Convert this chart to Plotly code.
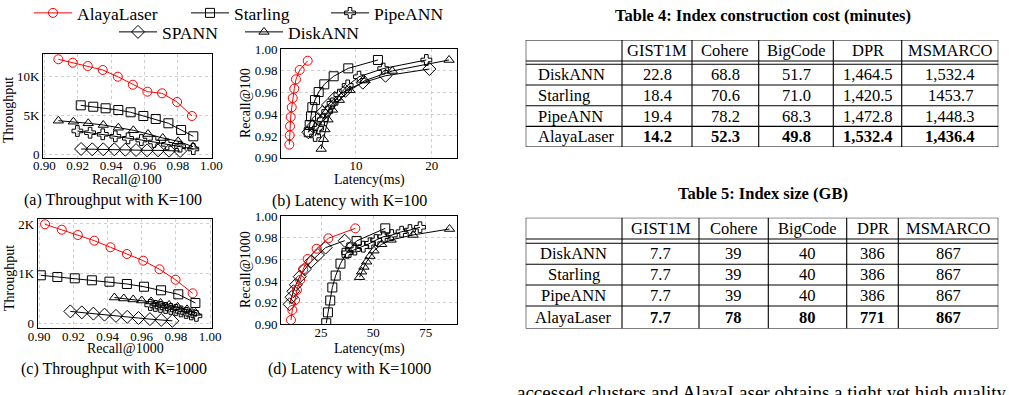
import plotly.graph_objects as go

W, H = 1009, 395
FONT = "Liberation Serif"

# ---------------- data ----------------
methods = ["AlayaLaser", "Starling", "PipeANN", "SPANN", "DiskANN"]

# (a) throughput vs Recall@100
alaya_a_recall = [0.9084, 0.9170, 0.9260, 0.9350, 0.9440, 0.9530, 0.9617, 0.9705, 0.9795, 0.9884]
alaya_a_qps = [12140, 11700, 11280, 10770, 9910, 8880, 7990, 7780, 6670, 4870]
starling_a_recall = [0.9218, 0.9293, 0.9367, 0.9443, 0.9517, 0.9593, 0.9667, 0.9743, 0.9819, 0.9892]
starling_a_qps = [6240, 6060, 5860, 5640, 5350, 4870, 4490, 3940, 3080, 2270]
pipe_a_recall = [0.9198, 0.9274, 0.9350, 0.9425, 0.9501, 0.9581, 0.9657, 0.9735, 0.9813, 0.9892]
pipe_a_qps = [2950, 2730, 2530, 2270, 2010, 1790, 1540, 1240, 940, 640]
spann_a_recall = [0.9220, 0.9287, 0.9353, 0.9419, 0.9485, 0.9549, 0.9615, 0.9681, 0.9747, 0.9813]
spann_a_qps = [640, 600, 600, 600, 550, 510, 470, 470, 420, 380]
disk_a_recall = [0.9084, 0.9174, 0.9263, 0.9353, 0.9443, 0.9533, 0.9621, 0.9709, 0.9801, 0.9890]
disk_a_qps = [4270, 4140, 3940, 3720, 3370, 3040, 2560, 2050, 1630, 940]

# (b) Recall@100 vs latency (ms)
alaya_b_lat = [1.19, 1.24, 1.28, 1.37, 1.51, 1.64, 1.85, 2.07, 2.56, 3.62]
alaya_b_recall = [0.9120, 0.9206, 0.9289, 0.9374, 0.9464, 0.9549, 0.9635, 0.9721, 0.9807, 0.9892]
starling_b_lat = [3.75, 3.88, 4.06, 4.23, 4.58, 5.07, 5.81, 7.05, 8.98, 12.9]
starling_b_recall = [0.9234, 0.9301, 0.9380, 0.9464, 0.9530, 0.9604, 0.9675, 0.9749, 0.9822, 0.9899]
pipe_b_lat = [4.6, 5.0, 5.6, 6.2, 6.9, 7.8, 8.9, 10.4, 13.6, 19.3]
pipe_b_recall = [0.9200, 0.9270, 0.9350, 0.9425, 0.9500, 0.9580, 0.9665, 0.9745, 0.9820, 0.9899]
spann_b_lat = [3.7, 4.3, 5.0, 5.6, 6.3, 7.2, 8.6, 10.9, 13.9, 19.7]
spann_b_recall = [0.9234, 0.9290, 0.9355, 0.9420, 0.9485, 0.9550, 0.9615, 0.9690, 0.9754, 0.9816]
disk_b_lat = [5.4, 5.7, 5.9, 6.3, 6.9, 7.8, 9.2, 11.2, 14.8, 22.3]
disk_b_recall = [0.9080, 0.9170, 0.9260, 0.9350, 0.9440, 0.9530, 0.9620, 0.9710, 0.9798, 0.9899]

# (c) throughput vs Recall@1000
alaya_c_recall = [0.9034, 0.9132, 0.9226, 0.9322, 0.9417, 0.9513, 0.9609, 0.9704, 0.9798, 0.9898]
alaya_c_qps = [1994, 1885, 1778, 1664, 1531, 1396, 1261, 1088, 878, 604]
starling_c_recall = [0.9009, 0.9106, 0.9208, 0.9308, 0.9411, 0.9513, 0.9613, 0.9713, 0.9814, 0.9914]
starling_c_qps = [967, 933, 906, 866, 838, 792, 737, 665, 584, 409]
pipe_c_recall = [0.965, 0.968, 0.971, 0.974, 0.977, 0.980, 0.983, 0.986, 0.989, 0.992]
pipe_c_qps = [370, 350, 330, 310, 290, 270, 240, 210, 180, 150]
spann_c_recall = [0.9182, 0.9249, 0.9317, 0.9382, 0.9449, 0.9515, 0.9581, 0.9648, 0.9714, 0.9779]
spann_c_qps = [240, 220, 195, 175, 150, 130, 107, 85, 68, 50]
disk_c_recall = [0.944, 0.9495, 0.955, 0.960, 0.9655, 0.971, 0.976, 0.981, 0.9865, 0.9915]
disk_c_qps = [520, 500, 480, 460, 440, 410, 370, 330, 280, 210]

# (d) Recall@1000 vs latency (ms)
alaya_d_lat = [10.65, 11.3, 12.6, 13.5, 15.0, 16.5, 18.6, 22.9, 28.5, 41.4]
alaya_d_recall = [0.9040, 0.9132, 0.9224, 0.9317, 0.9409, 0.9508, 0.9603, 0.9698, 0.9794, 0.9886]
starling_d_lat = [27.5, 28.3, 29.4, 30.4, 32.0, 34.3, 37.2, 39.5, 42.0, 55.7]
starling_d_recall = [0.9010, 0.9110, 0.9220, 0.9340, 0.9450, 0.9560, 0.9660, 0.9710, 0.9770, 0.9886]
pipe_d_lat = [37.5, 41.2, 45.2, 48.4, 51.3, 54.8, 58.8, 63.5, 67.5, 72.3]
pipe_d_recall = [0.9660, 0.9690, 0.9717, 0.9748, 0.9778, 0.9809, 0.9824, 0.9855, 0.9870, 0.9896]
spann_d_lat = [10.0, 10.9, 11.8, 13.0, 14.8, 17.3, 20.3, 23.5, 27.2, 36.3]
spann_d_recall = [0.9185, 0.9250, 0.9305, 0.9365, 0.9440, 0.9510, 0.9580, 0.9640, 0.9708, 0.9772]
disk_d_lat = [43.4, 44.4, 45.5, 46.8, 48.4, 50.3, 54.0, 58.5, 69.0, 86.4]
disk_d_recall = [0.9435, 0.9486, 0.9530, 0.9578, 0.9630, 0.9680, 0.9739, 0.9780, 0.9825, 0.9880]

recall_ticks = [0.90, 0.92, 0.94, 0.96, 0.98, 1.00]
qps100_ticks = [0, 5000, 10000]
qps100_labels = ["0", "5K", "10K"]
qps1000_ticks = [0, 1000, 2000]
qps1000_labels = ["0", "1K", "2K"]
lat100_ticks = [10, 20]
lat1000_ticks = [25, 50, 75]

# tables
table_columns = ["", "GIST1M", "Cohere", "BigCode", "DPR", "MSMARCO"]
table_methods = ["DiskANN", "Starling", "PipeANN", "AlayaLaser"]
build_cost = [
    ["22.8", "68.8", "51.7", "1,464.5", "1,532.4"],
    ["18.4", "70.6", "71.0", "1,420.5", "1453.7"],
    ["19.4", "78.2", "68.3", "1,472.8", "1,448.3"],
    ["14.2", "52.3", "49.8", "1,532.4", "1,436.4"],
]
index_size = [
    ["7.7", "39", "40", "386", "867"],
    ["7.7", "39", "40", "386", "867"],
    ["7.7", "39", "40", "386", "867"],
    ["7.7", "78", "80", "771", "867"],
]

# ---------------- helpers ----------------
def fx(p):
    return p / W

def fy(p):
    return 1 - p / H

styles = {
    "AlayaLaser": dict(color="#ff0000", symbol="circle-open", size=9),
    "Starling": dict(color="black", symbol="square-open", size=9),
    "PipeANN": dict(color="black", symbol="cross-open", size=9),
    "SPANN": dict(color="black", symbol="diamond-open", size=10),
    "DiskANN": dict(color="black", symbol="triangle-up-open", size=9),
}
legend_of = {"AlayaLaser": "legend", "Starling": "legend", "PipeANN": "legend",
             "SPANN": "legend2", "DiskANN": "legend2"}
rank_of = {"AlayaLaser": 1, "Starling": 2, "PipeANN": 3, "SPANN": 4, "DiskANN": 5}
lw_of = {"AlayaLaser": 104, "Starling": 87, "PipeANN": 110, "SPANN": 73, "DiskANN": 110}

panels = [
    ("x", "y", {
        "Starling": (starling_a_recall, starling_a_qps),
        "PipeANN": (pipe_a_recall, pipe_a_qps),
        "SPANN": (spann_a_recall, spann_a_qps),
        "DiskANN": (disk_a_recall, disk_a_qps),
        "AlayaLaser": (alaya_a_recall, alaya_a_qps),
    }),
    ("x2", "y2", {
        "Starling": (starling_b_lat, starling_b_recall),
        "PipeANN": (pipe_b_lat, pipe_b_recall),
        "SPANN": (spann_b_lat, spann_b_recall),
        "DiskANN": (disk_b_lat, disk_b_recall),
        "AlayaLaser": (alaya_b_lat, alaya_b_recall),
    }),
    ("x3", "y3", {
        "Starling": (starling_c_recall, starling_c_qps),
        "PipeANN": (pipe_c_recall, pipe_c_qps),
        "SPANN": (spann_c_recall, spann_c_qps),
        "DiskANN": (disk_c_recall, disk_c_qps),
        "AlayaLaser": (alaya_c_recall, alaya_c_qps),
    }),
    ("x4", "y4", {
        "Starling": (starling_d_lat, starling_d_recall),
        "PipeANN": (pipe_d_lat, pipe_d_recall),
        "SPANN": (spann_d_lat, spann_d_recall),
        "DiskANN": (disk_d_lat, disk_d_recall),
        "AlayaLaser": (alaya_d_lat, alaya_d_recall),
    }),
]

fig = go.Figure()
for i, (xa, ya, series) in enumerate(panels):
    for name, (xs, ys) in series.items():
        st = styles[name]
        fig.add_trace(go.Scatter(
            x=xs, y=ys, mode="lines+markers", name=name,
            xaxis=xa, yaxis=ya,
            line=dict(color=st["color"], width=1),
            marker=dict(symbol=st["symbol"], size=st["size"], color=st["color"],
                        line=dict(width=1, color=st["color"])),
            showlegend=(i == 0), legend=legend_of[name], legendrank=rank_of[name],
            legendwidth=lw_of[name], legendgroup=name,
        ))

axis_common = dict(showline=True, mirror=True, linecolor="black", linewidth=1,
                   showgrid=True, gridcolor="#cfcfcf", griddash="dot", gridwidth=1,
                   zeroline=False, ticks="",
                   tickfont=dict(family=FONT, size=13, color="black"))
xcommon = dict(axis_common, ticklabelstandoff=-4)
ycommon = dict(axis_common, ticklabelstandoff=0)

legend_font = dict(family=FONT, size=17.5, color="black")
fig.update_layout(
    width=W, height=H, margin=dict(l=0, r=0, t=0, b=0, autoexpand=False),
    paper_bgcolor="white", plot_bgcolor="white",
    font=dict(family=FONT, color="black"),
    xaxis=dict(domain=[fx(43), fx(212)], range=[0.8992, 1.0004], tickvals=recall_ticks,
               tickformat=".2f", anchor="y", **xcommon),
    yaxis=dict(domain=[fy(157.7), fy(54)], range=[-474, 12820], tickvals=qps100_ticks,
               ticktext=qps100_labels, anchor="x", **ycommon),
    xaxis2=dict(domain=[fx(281), fx(457)], range=[0.09, 23.35], tickvals=lat100_ticks,
                anchor="y2", **xcommon),
    yaxis2=dict(domain=[fy(157.7), fy(49)], range=[0.90, 1.00], tickvals=recall_ticks,
                tickformat=".2f", anchor="x2", **ycommon),
    xaxis3=dict(domain=[fx(37.7), fx(212.3)], range=[0.8991, 1.0013], tickvals=recall_ticks,
                tickformat=".2f", anchor="y3", **xcommon),
    yaxis3=dict(domain=[fy(328.3), fy(219)], range=[-100, 2100], tickvals=qps1000_ticks,
                ticktext=qps1000_labels, anchor="x3", **ycommon),
    xaxis4=dict(domain=[fx(281), fx(457)], range=[5.88, 89.97], tickvals=lat1000_ticks,
                anchor="y4", **xcommon),
    yaxis4=dict(domain=[fy(324.3), fy(216)], range=[0.90, 1.00], tickvals=recall_ticks,
                tickformat=".2f", anchor="x4", **ycommon),
    legend=dict(orientation="h", x=fx(29), y=fy(13), xanchor="left", yanchor="middle",
                font=legend_font, bgcolor="rgba(0,0,0,0)", itemwidth=38),
    legend2=dict(orientation="h", x=fx(114), y=fy(32), xanchor="left", yanchor="middle",
                 font=legend_font, bgcolor="rgba(0,0,0,0)", itemwidth=38),
)

# ---------------- tables on their own hidden axes ----------------
def add_table(idx, values, top, colw, row_h, header_h, gap, first_left):
    xa, ya = "x%d" % idx, "y%d" % idx
    total_w = sum(colw)
    heights = [header_h, gap] + row_h
    total_h = sum(heights)
    fig.update_layout(**{
        "xaxis%d" % idx: dict(domain=[fx(525.7), fx(525.7 + total_w)], range=[0, total_w],
                              visible=False, anchor=ya, fixedrange=True),
        "yaxis%d" % idx: dict(domain=[fy(top + total_h), fy(top)], range=[total_h, 0],
                              visible=False, anchor=xa, fixedrange=True),
    })
    xb = [0]
    for w in colw:
        xb.append(xb[-1] + w)
    yb = [0]
    for h in heights:
        yb.append(yb[-1] + h)
    line = dict(color="black", width=1.1)
    for yv in yb:
        fig.add_shape(type="line", xref=xa, yref=ya, x0=0, x1=total_w, y0=yv, y1=yv, line=line)
    for xv in xb:
        fig.add_shape(type="line", xref=xa, yref=ya, x0=xv, x1=xv, y0=0, y1=total_h, line=line)
    fsize = 16.5
    for j, name in enumerate(table_columns):
        if name:
            fig.add_annotation(text=name, x=(xb[j] + xb[j + 1]) / 2, y=header_h / 2,
                               xref=xa, yref=ya, showarrow=False,
                               font=dict(family=FONT, size=fsize, color="black"))
    for r, meth in enumerate(table_methods):
        yc = (yb[r + 2] + yb[r + 3]) / 2
        if first_left:
            fig.add_annotation(text=meth, x=10, y=yc, xref=xa, yref=ya, xanchor="left",
                               showarrow=False, font=dict(family=FONT, size=fsize, color="black"))
        else:
            fig.add_annotation(text=meth, x=(xb[0] + xb[1]) / 2, y=yc, xref=xa, yref=ya,
                               showarrow=False, font=dict(family=FONT, size=fsize, color="black"))
        for j, v in enumerate(values[r]):
            txt = "<b>%s</b>" % v if meth == "AlayaLaser" else v
            fig.add_annotation(text=txt, x=(xb[j + 1] + xb[j + 2]) / 2, y=yc, xref=xa, yref=ya,
                               showarrow=False, font=dict(family=FONT, size=fsize, color="black"))

add_table(5, build_cost, 40, [96.3, 70, 66.7, 74.6, 68.4, 96.6],
          [20.7, 20.7, 20.7, 20.7], 21, 3.3, True)
add_table(6, index_size, 217.7, [96.3, 77, 69.3, 78.4, 51.6, 100],
          [21, 20.7, 21, 22.6], 21.3, 4.3, False)

def ann(text, x, y, size=14, angle=0, xanchor="center", yanchor="middle"):
    fig.add_annotation(text=text, x=fx(x), y=fy(y), xref="paper", yref="paper",
                       showarrow=False, textangle=angle, xanchor=xanchor, yanchor=yanchor,
                       font=dict(family=FONT, size=size, color="black"))

# axis titles
ann("Recall@100", 127.5, 179.5)
ann("Throughput", 9, 110, angle=-90)
ann("Latency(ms)", 369, 179.5)
ann("Recall@100", 245, 103, angle=-90)
ann("Recall@1000", 125, 348.5)
ann("Throughput", 9, 278, angle=-90)
ann("Latency(ms)", 369, 348.5)
ann("Recall@1000", 245, 270, angle=-90)
# captions
ann("(a) Throughput with K=100", 113, 199.5, size=16)
ann("(b) Latency with K=100", 349, 200.7, size=16)
ann("(c) Throughput with K=1000", 114, 369, size=16)
ann("(d) Latency with K=1000", 349, 369.3, size=16)
# table titles
ann("<b>Table 4: Index construction cost (minutes)</b>", 763, 15.5, size=16.5)
ann("<b>Table 5: Index size (GB)</b>", 763, 193.3, size=16.5)
# body text (clipped at the bottom edge, as in the page)
ann("accessed clusters and AlayaLaser obtains a tight yet high quality", 761.5, 392,
    size=19)

fig.write_html("out.html")
